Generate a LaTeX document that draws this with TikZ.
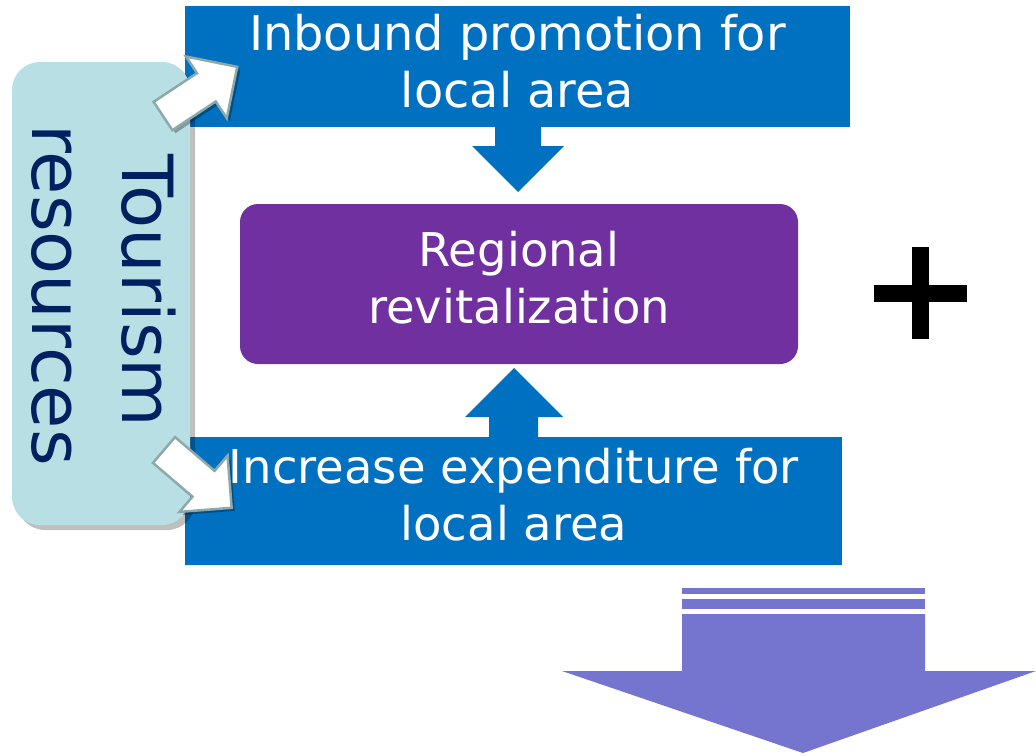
\documentclass[tikz,border=0pt]{standalone}
\usepackage{fontspec}
\setmainfont{DejaVu Sans}
\usetikzlibrary{shadows,calc}
\definecolor{boxblue}{HTML}{0070C0}
\definecolor{regpurple}{HTML}{7030A0}
\definecolor{tealbg}{HTML}{B8DFE3}
\definecolor{navy}{HTML}{002060}
\definecolor{lavender}{HTML}{7575CF}
\definecolor{arrowedge}{HTML}{8EA9A9}
\begin{document}
\begin{tikzpicture}[x=1pt,y=-1pt,
  rect/.style={draw=none, inner sep=0pt, outer sep=0pt},
  maintext/.style={text=white, align=center, inner sep=0pt, font=\fontsize{46.5}{57}\selectfont},
  tourtext/.style={text=navy, inner sep=0pt, font=\fontsize{70.5}{84}\selectfont, rotate=-90, anchor=base},
  whitearrow/.style={fill=white, draw=arrowedge, line width=2.5pt, line join=miter,
     drop shadow={shadow xshift=3pt, shadow yshift=-3pt, opacity=0.3, fill=black}},
  blockarrow/.style={fill=boxblue, draw=none}
]
\useasboundingbox (0,0) rectangle (1036,755);

% blue boxes
\node[rect, fill=boxblue, minimum width=665, minimum height=121] (inbox) at (517.5,66.5) {};
\node[rect, fill=boxblue, minimum width=657, minimum height=128] (incbox) at (513.5,501) {};
\node[maintext, font=\fontsize{47.8}{57}\selectfont] (inbtext) at (517.5,61.5) {Inbound promotion for\\local area};
\node[maintext] (inctext) at (514,495) {Increase expenditure for\\local area};

% purple box
\node[rect, fill=regpurple, rounded corners=18pt, minimum width=558, minimum height=160] (reg) at (519,284) {};
\node[maintext] (regtext) at (519,278) {Regional\\revitalization};

% blue block arrows
\fill[blockarrow] (495,120) -- (541,120) -- (541,146) -- (564,146) -- (518,192) -- (472,146) -- (495,146) -- cycle;
\fill[blockarrow] (489,440) -- (538,440) -- (538,417) -- (563,417) -- (514,368) -- (465,417) -- (489,417) -- cycle;

% plus sign
\fill[black] (912,247) rectangle (929,339);
\fill[black] (874,285) rectangle (967,302);

% lavender arrow
\fill[lavender] (682,588) rectangle (925,594);
\fill[lavender] (682,599) rectangle (925,609);
\fill[lavender] (682,614) -- (925,614) -- (925,671) -- (1036,671) -- (803,753) -- (562,671) -- (682,671) -- cycle;

% tourism resources box
\node[rect, fill=tealbg, rounded corners=28pt, minimum width=178, minimum height=463,
  drop shadow={shadow xshift=5pt, shadow yshift=-5pt, opacity=0.25, fill=black}] (tour) at (101,293.5) {};
\node[tourtext] (tour1) at (122,291) {Tourism};
\node[tourtext] (tour2) at (32,295) {resources};

% white arrows
\begin{scope}[shift={(163,116)}, rotate=33.5]
  \path[whitearrow] (0,-17) -- (52,-17) -- (52,-37) -- (89,0) -- (52,37) -- (52,17) -- (0,17) -- cycle;
\end{scope}
\begin{scope}[shift={(164,450)}, rotate=-40.5]
  \path[whitearrow] (0,-17) -- (52,-17) -- (52,-37) -- (89,0) -- (52,37) -- (52,17) -- (0,17) -- cycle;
\end{scope}
\end{tikzpicture}
\end{document}
